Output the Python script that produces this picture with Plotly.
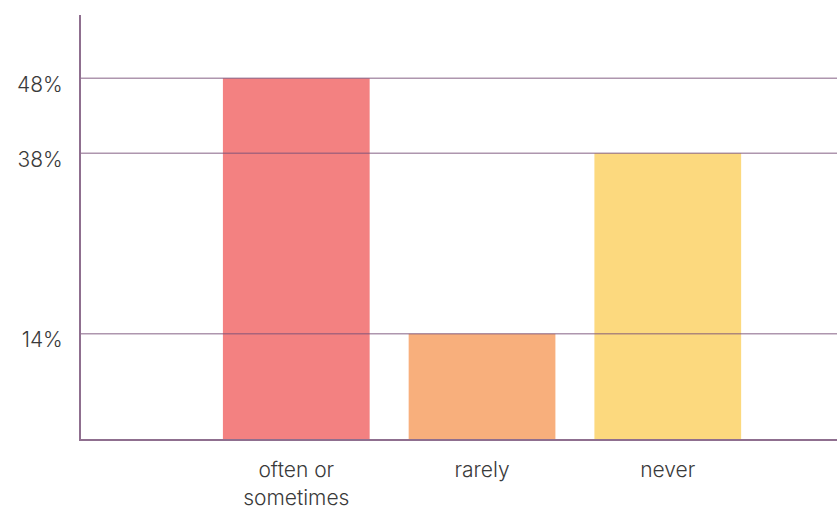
import plotly.graph_objects as go

categories = ["often or<br>sometimes", "rarely", "never"]
values = [48, 14, 38]
colors = ["#F38181", "#F8AF7C", "#FCD97E"]
tick_vals = [14, 38, 48]
tick_text = ["14%", "38%", "48%"]

fig = go.Figure()
fig.add_trace(go.Bar(
    x=list(range(len(categories))), y=values,
    marker=dict(color=colors, line=dict(width=0)),
    width=0.79, hoverinfo="skip",
))

grid_color = "rgba(120,80,120,0.6)"
for v in tick_vals:
    fig.add_shape(type="line", xref="paper", x0=0, x1=1, yref="y", y0=v, y1=v,
                  line=dict(color=grid_color, width=1.5), layer="above")

fig.update_layout(
    width=837, height=509,
    margin=dict(l=81, r=0, t=15, b=70),
    paper_bgcolor="white", plot_bgcolor="white",
    showlegend=False,
    font=dict(family="Inter, Lato, sans-serif", size=21, color="#3a3a3a", weight=300),
    xaxis=dict(
        range=[-1.159, 2.911], automargin=False,
        tickmode="array", tickvals=list(range(len(categories))), ticktext=categories,
        showgrid=False, zeroline=False,
        showline=True, linecolor="#8f6f8f", linewidth=2,
        ticks="", ticklabelstandoff=11,
    ),
    yaxis=dict(
        range=[0, 56.4], automargin=False,
        tickmode="array", tickvals=tick_vals, ticktext=tick_text,
        showgrid=False, zeroline=False,
        showline=True, linecolor="#8f6f8f", linewidth=2,
        ticks="", ticklabelstandoff=12, ticklabelshift=6,
    ),
)

fig.write_html("out.html")
